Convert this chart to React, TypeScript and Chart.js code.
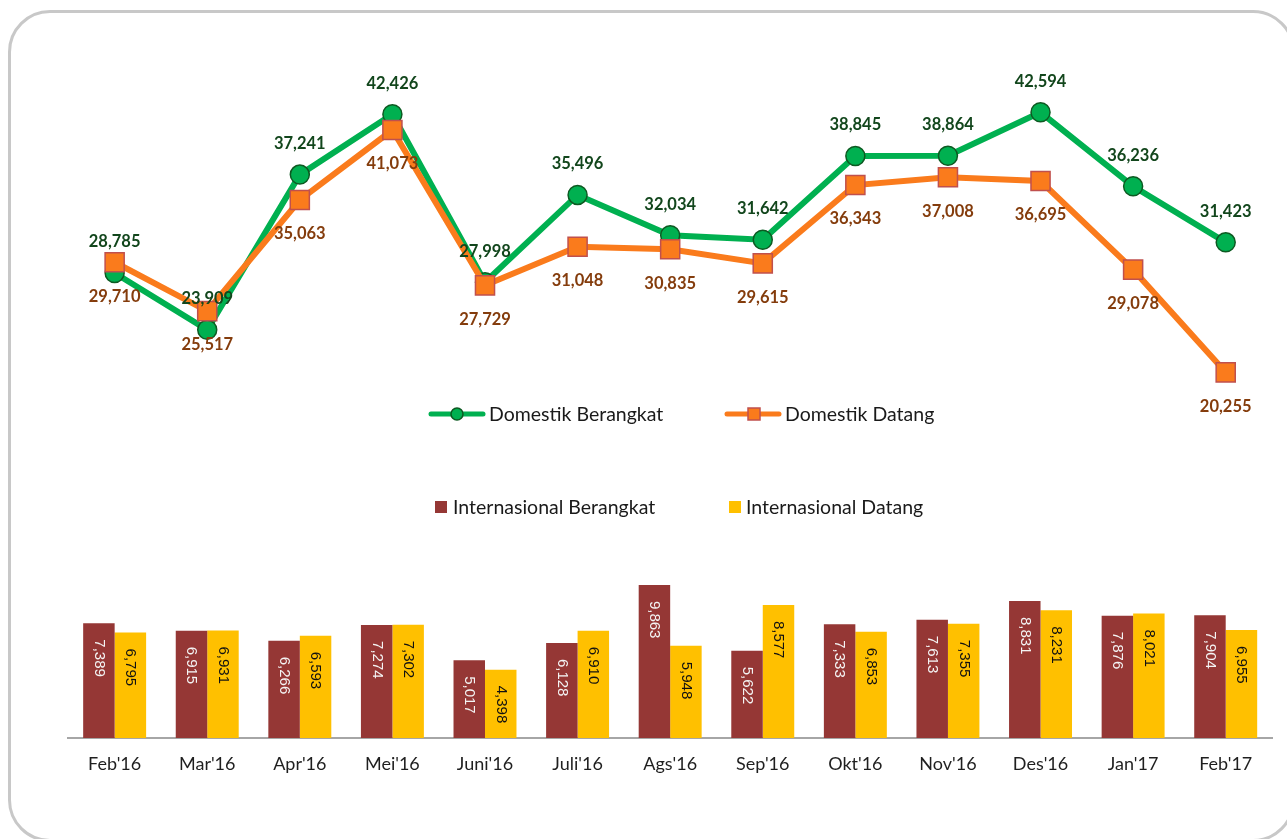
import React, { useEffect, useRef } from "react";
import { Chart, registerables } from "chart.js";

Chart.register(...registerables);

const categories = ["Feb'16", "Mar'16", "Apr'16", "Mei'16", "Juni'16", "Juli'16", "Ags'16", "Sep'16", "Okt'16", "Nov'16", "Des'16", "Jan'17", "Feb'17"];
const domestikBerangkat = [28785, 23909, 37241, 42426, 27998, 35496, 32034, 31642, 38845, 38864, 42594, 36236, 31423];
const domestikDatang = [29710, 25517, 35063, 41073, 27729, 31048, 30835, 29615, 36343, 37008, 36695, 29078, 20255];
const internasionalBerangkat = [7389, 6915, 6266, 7274, 5017, 6128, 9863, 5622, 7333, 7613, 8831, 7876, 7904];
const internasionalDatang = [6795, 6931, 6593, 7302, 4398, 6910, 5948, 8577, 6853, 7355, 8231, 8021, 6955];

const GREEN = "#00b050";
const GREEN_DARK = "#0d5a22";
const GREEN_LABEL = "#12461c";
const ORANGE = "#fa7b1c";
const ORANGE_BORDER = "#c0504d";
const ORANGE_LABEL = "#843c0c";
const MAROON = "#953735";
const YELLOW = "#ffc000";
const FONT = "Lato, 'Open Sans', sans-serif";

const fmt = (v: number) => v.toLocaleString("en-US");

const valueLabels = {
  id: "valueLabels",
  afterDatasetsDraw(chart: any) {
    const ctx = chart.ctx as CanvasRenderingContext2D;
    chart.data.datasets.forEach((ds: any, i: number) => {
      const meta = chart.getDatasetMeta(i);
      const kind = ds.labelKind;
      meta.data.forEach((el: any, j: number) => {
        const v = ds.data[j] as number;
        const text = fmt(v);
        ctx.save();
        if (kind === "lineAbove" || kind === "lineBelow") {
          ctx.font = `bold 16.5px ${FONT}`;
          ctx.fillStyle = ds.labelColor;
          ctx.textAlign = "center";
          ctx.textBaseline = "middle";
          ctx.fillText(text, el.x, kind === "lineAbove" ? el.y - 31 : el.y + 34);
        } else if (kind === "bar") {
          ctx.font = `15px 'Liberation Sans', Arial, sans-serif`;
          ctx.fillStyle = ds.labelColor;
          ctx.translate(el.x, el.y + 16);
          ctx.rotate(Math.PI / 2);
          ctx.textAlign = "left";
          ctx.textBaseline = "middle";
          ctx.fillText(text, 0, 0);
        }
        ctx.restore();
      });
    });
  },
};

const customLegend = {
  id: "customLegend",
  afterDraw(chart: any) {
    const ctx = chart.ctx as CanvasRenderingContext2D;
    const ds = chart.data.datasets;
    const dBer = ds.find((d: any) => d.label === "Domestik Berangkat");
    const dDat = ds.find((d: any) => d.label === "Domestik Datang");
    const iBer = ds.find((d: any) => d.label === "Internasional Berangkat");
    const iDat = ds.find((d: any) => d.label === "Internasional Datang");
    ctx.save();
    ctx.font = `19.5px ${FONT}`;
    ctx.fillStyle = "#1a1a1a";
    ctx.textBaseline = "middle";
    ctx.textAlign = "left";
    // line legend row
    const y1 = 414;
    ctx.lineCap = "round";
    ctx.lineWidth = 5;
    ctx.strokeStyle = dBer.borderColor;
    ctx.beginPath();
    ctx.moveTo(431, y1);
    ctx.lineTo(483, y1);
    ctx.stroke();
    ctx.beginPath();
    ctx.arc(457, y1, 6, 0, Math.PI * 2);
    ctx.fillStyle = dBer.pointBackgroundColor;
    ctx.fill();
    ctx.lineWidth = 1.5;
    ctx.strokeStyle = dBer.pointBorderColor;
    ctx.stroke();
    ctx.fillStyle = "#1a1a1a";
    ctx.fillText(dBer.label, 489, y1 + 1);

    ctx.lineWidth = 5;
    ctx.strokeStyle = dDat.borderColor;
    ctx.beginPath();
    ctx.moveTo(727, y1);
    ctx.lineTo(779, y1);
    ctx.stroke();
    ctx.fillStyle = dDat.pointBackgroundColor;
    ctx.fillRect(748, y1 - 6, 12, 12);
    ctx.lineWidth = 1.5;
    ctx.strokeStyle = dDat.pointBorderColor;
    ctx.strokeRect(748, y1 - 6, 12, 12);
    ctx.fillStyle = "#1a1a1a";
    ctx.fillText(dDat.label, 785, y1 + 1);

    // bar legend row
    const y2 = 507;
    ctx.fillStyle = iBer.backgroundColor;
    ctx.fillRect(435, y2 - 6, 12, 12);
    ctx.fillStyle = "#1a1a1a";
    ctx.fillText(iBer.label, 453, y2 + 1);
    ctx.fillStyle = iDat.backgroundColor;
    ctx.fillRect(729, y2 - 6, 12, 12);
    ctx.fillStyle = "#1a1a1a";
    ctx.fillText(iDat.label, 746, y2 + 1);
    ctx.restore();
  },
};

export default function App() {
  const canvasRef = useRef<HTMLCanvasElement | null>(null);

  useEffect(() => {
    if (!canvasRef.current) return;
    const chart = new Chart(canvasRef.current, {
      type: "bar",
      data: {
        labels: categories,
        datasets: [
          {
            type: "line",
            label: "Domestik Datang",
            data: domestikDatang,
            yAxisID: "yLine",
            borderColor: ORANGE,
            borderWidth: 6,
            backgroundColor: ORANGE,
            pointStyle: "rect",
            pointRadius: 13.5,
            pointHoverRadius: 13.5,
            pointBackgroundColor: ORANGE,
            pointBorderColor: ORANGE_BORDER,
            pointBorderWidth: 1.5,
            tension: 0,
            order: 0,
            labelKind: "lineBelow",
            labelColor: ORANGE_LABEL,
          } as any,
          {
            type: "line",
            label: "Domestik Berangkat",
            data: domestikBerangkat,
            yAxisID: "yLine",
            borderColor: GREEN,
            borderWidth: 6,
            backgroundColor: GREEN,
            pointStyle: "circle",
            pointRadius: 9.5,
            pointHoverRadius: 9.5,
            pointBackgroundColor: GREEN,
            pointBorderColor: GREEN_DARK,
            pointBorderWidth: 1.5,
            tension: 0,
            order: 1,
            labelKind: "lineAbove",
            labelColor: GREEN_LABEL,
          } as any,
          {
            type: "bar",
            label: "Internasional Berangkat",
            data: internasionalBerangkat,
            yAxisID: "yBar",
            backgroundColor: MAROON,
            borderWidth: 0,
            order: 2,
            labelKind: "bar",
            labelColor: "#f4f4f4",
          } as any,
          {
            type: "bar",
            label: "Internasional Datang",
            data: internasionalDatang,
            yAxisID: "yBar",
            backgroundColor: YELLOW,
            borderWidth: 0,
            order: 3,
            labelKind: "bar",
            labelColor: "#111111",
          } as any,
        ],
      },
      options: {
        responsive: false,
        animation: false,
        events: [],
        layout: { padding: { left: 68.35, right: 13.65, top: 20, bottom: 0 } },
        datasets: { bar: { categoryPercentage: 0.68, barPercentage: 1 } },
        plugins: {
          legend: { display: false },
          tooltip: { enabled: false },
          title: { display: false },
        },
        scales: {
          x: {
            type: "category",
            offset: true,
            grid: { display: false, drawTicks: false },
            border: { display: true, color: "#a6a6a6", width: 2 },
            ticks: {
              color: "#1f1f1f",
              font: { family: FONT, size: 18 },
              padding: 15,
              maxRotation: 0,
              autoSkip: false,
            },
            afterFit: (s: any) => {
              s.height = 101;
            },
          },
          yBar: {
            type: "linear",
            display: false,
            min: 0,
            max: 46263,
          },
          yLine: {
            type: "linear",
            display: false,
            min: -11160,
            max: 50524,
          },
        },
      } as any,
      plugins: [valueLabels, customLegend],
    });
    return () => chart.destroy();
  }, []);

  return (
    <div style={{ position: "fixed", left: 0, top: 0, width: 1287, height: 839, background: "#ffffff", overflow: "hidden" }}>
      <div
        style={{
          position: "absolute",
          left: 8,
          top: 10,
          width: 1287,
          height: 832,
          border: "3px solid #c8c8c8",
          borderRadius: 42,
          boxSizing: "border-box",
        }}
      />
      <canvas ref={canvasRef} width={1287} height={839} style={{ position: "absolute", left: 0, top: 0, width: 1287, height: 839 }} />
    </div>
  );
}
